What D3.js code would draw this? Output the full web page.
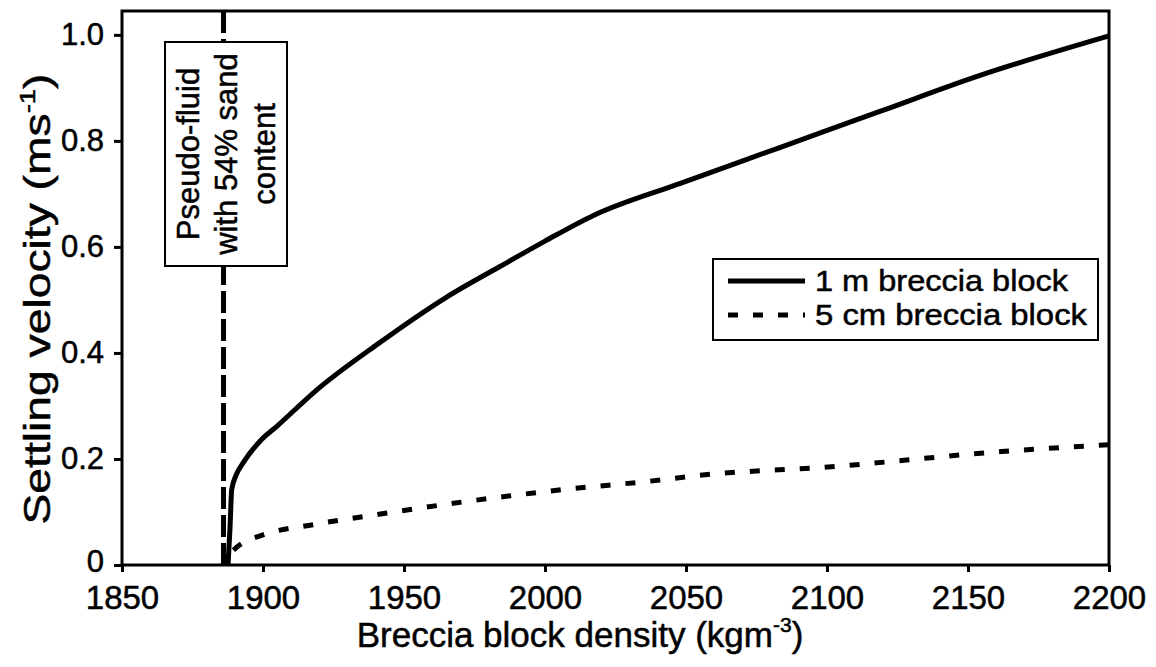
<!DOCTYPE html>
<html>
<head>
<meta charset="utf-8">
<script src="https://cdn.jsdelivr.net/npm/d3@7"></script>
<style>
  html, body { margin: 0; padding: 0; background: #fff; }
  svg { display: block; }
  text { font-family: "Liberation Sans", Arial, Helvetica, sans-serif; fill: #000; stroke: #000; stroke-width: 0.5px; }
</style>
</head>
<body>
<svg id="chart" width="1156" height="667"></svg>
<script>
// Settling velocity of breccia blocks in a sand-laden pseudo-fluid
const density1m = [1887.6, 1888.3, 1888.9, 1890.5, 1893, 1899, 1905, 1919, 1941, 1965, 1984, 2000, 2017, 2048, 2083, 2119, 2154, 2200];
const velocity1m = [0, 0.07, 0.142, 0.17, 0.193, 0.234, 0.262, 0.33, 0.418, 0.505, 0.563, 0.611, 0.659, 0.72, 0.787, 0.856, 0.923, 0.998];

const density5cm = [1889.5, 1891.8, 1900, 1917.7, 1944, 1971, 2006, 2042, 2051, 2103, 2162, 2200];
const velocity5cm = [0.028, 0.038, 0.057, 0.076, 0.098, 0.119, 0.142, 0.161, 0.167, 0.186, 0.214, 0.227];

const fluidDensity = 1886;
const xTicks = [1850, 1900, 1950, 2000, 2050, 2100, 2150, 2200];
const yTicks = [0, 0.2, 0.4, 0.6, 0.8, 1.0];
const yTickLabels = ["0", "0.2", "0.4", "0.6", "0.8", "1.0"];
const seriesNames = ["1 m breccia block", "5 cm breccia block"];
const annotationLines = ["Pseudo-fluid", "with 54% sand", "content"];

const svg = d3.select("#chart");
const margin = { left: 122, right: 47, top: 11, bottom: 102 };
const W = 1156, H = 667;

const x = d3.scaleLinear().domain([1850, 2200]).range([margin.left, W - margin.right]);
const y = d3.scaleLinear().domain([0, 1.045]).range([H - margin.bottom, margin.top]);

// x axis
const xAxis = d3.axisBottom(x).tickValues(xTicks).tickFormat(d3.format("d")).tickSize(7).tickPadding(14);
const gx = svg.append("g").attr("transform", `translate(0,${y(0)})`).call(xAxis);
gx.select(".domain").remove();
gx.selectAll(".tick line").attr("stroke", "#000").attr("stroke-width", 3);
gx.selectAll(".tick text").attr("font-size", 33).attr("fill", "#000");

// y axis
const yAxis = d3.axisLeft(y).tickValues(yTicks).tickFormat((d, i) => yTickLabels[i]).tickSize(8).tickPadding(10);
const gy = svg.append("g").attr("transform", `translate(${x(1850)},0)`).call(yAxis);
gy.select(".domain").remove();
gy.selectAll(".tick line").attr("stroke", "#000").attr("stroke-width", 3);
gy.selectAll(".tick text").attr("font-size", 31).attr("fill", "#000");
// lift the origin label a little so it clears the first x label
gy.selectAll(".tick text").filter(d => d === 0).attr("y", -3);

// plot frame
svg.append("rect")
  .attr("x", x(1850)).attr("y", margin.top)
  .attr("width", x(2200) - x(1850)).attr("height", y(0) - margin.top)
  .attr("fill", "none").attr("stroke", "#000").attr("stroke-width", 3);

// pseudo-fluid density marker
svg.append("line")
  .attr("x1", x(fluidDensity)).attr("x2", x(fluidDensity))
  .attr("y1", margin.top).attr("y2", y(0))
  .attr("stroke", "#000").attr("stroke-width", 5)
  .attr("stroke-dasharray", "22,6");

const line = d3.line().x(d => x(d[0])).y(d => y(d[1])).curve(d3.curveMonotoneX);

svg.append("path")
  .datum(density1m.map((d, i) => [d, velocity1m[i]]))
  .attr("d", line)
  .attr("fill", "none").attr("stroke", "#000").attr("stroke-width", 5)
  .attr("stroke-linejoin", "round");

svg.append("path")
  .datum(density5cm.map((d, i) => [d, velocity5cm[i]]))
  .attr("d", line)
  .attr("fill", "none").attr("stroke", "#000").attr("stroke-width", 5)
  .attr("stroke-dasharray", "10,15");

// annotation box
const box = { x: 165, y: 42, w: 122, h: 224 };
svg.append("rect")
  .attr("x", box.x).attr("y", box.y).attr("width", box.w).attr("height", box.h)
  .attr("fill", "#fff").attr("stroke", "#000").attr("stroke-width", 2);
const ann = svg.append("text")
  .attr("transform", `translate(${box.x + box.w / 2},${box.y + box.h / 2}) rotate(-90)`)
  .attr("text-anchor", "middle").attr("font-size", 31);
annotationLines.forEach((t, i) => {
  ann.append("tspan").attr("x", 0).attr("y", (i - 1) * 38 + 11).text(t);
});

// legend
const lg = svg.append("g");
lg.append("rect").attr("x", 713).attr("y", 259).attr("width", 385).attr("height", 81)
  .attr("fill", "#fff").attr("stroke", "#000").attr("stroke-width", 2);
const rows = [
  { name: seriesNames[0], dash: null, cy: 281, len: 253 },
  { name: seriesNames[1], dash: "10,15", cy: 315, len: 272 }
];
rows.forEach(r => {
  const l = lg.append("line").attr("x1", 728).attr("x2", 805).attr("y1", r.cy).attr("y2", r.cy)
    .attr("stroke", "#000").attr("stroke-width", 5);
  if (r.dash) l.attr("stroke-dasharray", r.dash);
  lg.append("text").attr("x", 815).attr("y", r.cy + 10).attr("font-size", 29)
    .attr("textLength", r.len).attr("lengthAdjust", "spacingAndGlyphs").text(r.name);
});

// axis titles
const xt = svg.append("text").attr("x", 580).attr("y", 647)
  .attr("text-anchor", "middle").attr("font-size", 35);
xt.append("tspan").text("Breccia block density (kgm");
xt.append("tspan").attr("font-size", 21).attr("dy", -15).text("-3");
xt.append("tspan").attr("dy", 15).text(")");

const yt = svg.append("text").attr("transform", `translate(50,299) rotate(-90) scale(1.25,1)`)
  .attr("text-anchor", "middle").attr("font-size", 37);
yt.append("tspan").text("Settling velocity (ms");
yt.append("tspan").attr("font-size", 22).attr("dy", -15).text("-1");
yt.append("tspan").attr("dy", 15).text(")");
</script>
</body>
</html>
